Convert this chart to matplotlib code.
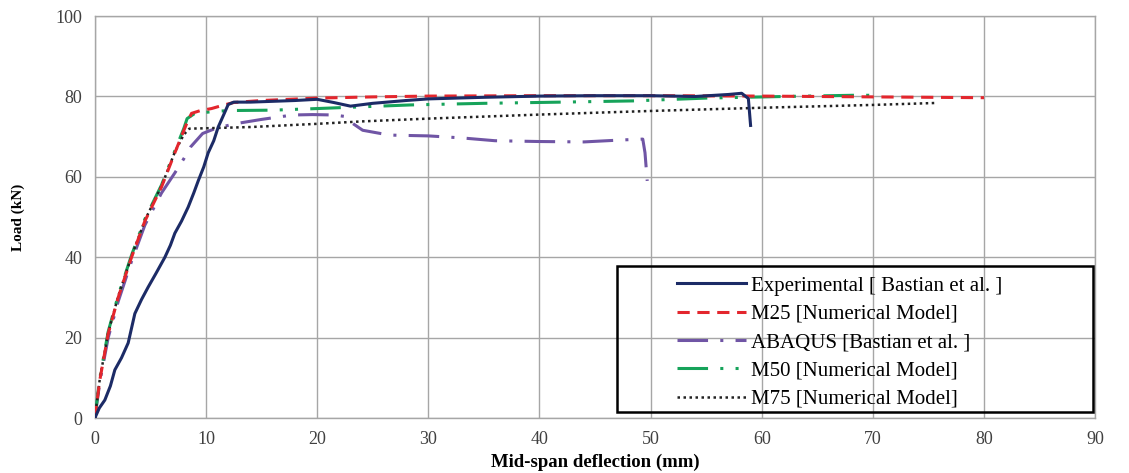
import matplotlib.pyplot as plt
from matplotlib.patches import Rectangle

plt.rcParams['font.family'] = ['Liberation Serif', 'DejaVu Serif']

# load-deflection curves, x = mid-span deflection (mm), y = load (kN)
exp_x = [0, 0.4, 0.9, 1.4, 1.8, 2.4, 3.0, 3.6, 4.2, 4.8, 5.5, 6.3, 6.8, 7.2, 7.8, 8.4, 8.9, 9.3, 9.8,
         10.2, 10.7, 11.1, 11.6, 12.0, 12.5, 14, 16, 18, 20, 21.5, 23, 25, 28, 30, 35, 40, 45, 50, 54,
         57, 58.2, 58.8, 59.0]
exp_y = [0, 2.5, 4.5, 8, 12, 15, 18.7, 26, 29.5, 32.6, 36, 40, 43, 46, 49, 52.5, 56, 59, 62.5,
         66, 69, 72.4, 75.5, 78, 78.6, 78.6, 78.8, 79.0, 79.3, 78.5, 77.6, 78.3, 79.0, 79.4, 79.8, 80.1, 80.2, 80.2, 80.0,
         80.5, 80.8, 79.5, 72.8]

m25_x = [0, 0.45, 1.2, 2.1, 3.3, 4.5, 6.0, 7.2, 8.0, 8.3, 8.7, 9.5, 10.5, 11.5, 12.5, 15, 20, 25, 30, 40,
         50, 60, 70, 80]
m25_y = [0, 9.5, 21, 30, 40, 49, 57.5, 66, 71.5, 73.5, 75.8, 76.5, 77.0, 77.8, 78.5, 79.0, 79.6, 79.9, 80.1, 80.2,
         80.2, 80.1, 79.9, 79.7]

abq_x = [0, 0.45, 1.2, 2.1, 3.3, 4.5, 6.0, 7.2, 8.0, 8.6, 9.7, 11.0, 12.8, 15, 17.8, 19.6, 21.5, 22.6, 23.2,
         24.1, 26.5, 30, 33, 36, 40, 44, 47.5, 49.3, 49.5, 49.7]
abq_y = [0, 9, 20, 29, 39, 48, 56, 61, 64.5, 67.4, 70.8, 72.2, 73.3, 74.3, 75.4, 75.5, 75.4, 75.0, 73.3,
         71.6, 70.4, 70.2, 69.7, 69.0, 68.8, 68.7, 69.2, 69.4, 66, 59]

m50_x = [0, 0.45, 1.2, 2.1, 3.3, 4.5, 6.0, 7.2, 8.0, 8.3, 9.0, 10.5, 12, 16, 20, 28.4, 35, 42, 48.4, 55,
         62, 68.2, 70]
m50_y = [0, 10, 21.5, 30.5, 40.5, 49.5, 58, 66.5, 72, 74.5, 75.8, 76.2, 76.5, 76.6, 77.0, 77.9, 78.3, 78.6, 78.9, 79.6,
         80.0, 80.3, 80.3]

m75_x = [0, 0.45, 1.2, 2.1, 3.3, 4.5, 6.0, 7.2, 8.0, 8.5, 10, 14, 20, 24, 30, 40, 45.5, 50, 60, 70, 75.8]
m75_y = [0, 9.8, 21.2, 30.3, 40.2, 49.2, 57.7, 66.2, 70.5, 72.0, 72.1, 72.4, 73.2, 73.8, 74.5, 75.5, 76.0, 76.4, 77.2, 77.9, 78.4]

fig, ax = plt.subplots(figsize=(11.29, 4.73), dpi=100)
fig.subplots_adjust(left=0.084, right=0.970, bottom=0.116, top=0.966)

ax.plot(exp_x, exp_y, color='#1c2b66', lw=2.2, label='Experimental [ Bastian et al. ]', zorder=5)
ax.plot(m25_x, m25_y, color='#e3262d', lw=2.2, dashes=(4, 2.5), label='M25 [Numerical Model]', zorder=4)
ax.plot(abq_x, abq_y, color='#7055a5', lw=2.2, dashes=(10, 4, 1, 4), label='ABAQUS [Bastian et al. ]', zorder=3)
ax.plot(m50_x, m50_y, color='#16a35a', lw=2.2, dashes=(10, 4, 1, 4, 1, 4), label='M50 [Numerical Model]', zorder=3)
ax.plot(m75_x, m75_y, color='#222222', lw=1.8, dashes=(1, 1.4), label='M75 [Numerical Model]', zorder=3)

ax.set_xlim(0, 90)
ax.set_ylim(0, 100)
ax.set_xticks(range(0, 91, 10))
ax.set_yticks(range(0, 101, 20))
ax.grid(True, color='#a6a6a6', lw=1)
ax.set_axisbelow(True)
for s in ax.spines.values():
    s.set_color('#a6a6a6')
    s.set_linewidth(1)
ax.tick_params(length=0, labelsize=13, labelcolor='#404040', pad=9)

ax.set_xlabel('Mid-span deflection (mm)', fontsize=13.5, fontweight='bold', labelpad=4)
ax.set_ylabel('Load (kN)', fontsize=11, fontweight='bold', labelpad=22)

# boxed legend in the lower right
ax.add_patch(Rectangle((0.522, 0.015), 0.476, 0.363, transform=ax.transAxes, fill=True,
                       facecolor='none', edgecolor='black', lw=1.8, zorder=6))
ax.legend(loc='upper left', bbox_to_anchor=(0.563, 0.40), frameon=False, fontsize=15,
          handlelength=3.3, handletextpad=0.25, labelspacing=0.42)

plt.savefig('out.png')
